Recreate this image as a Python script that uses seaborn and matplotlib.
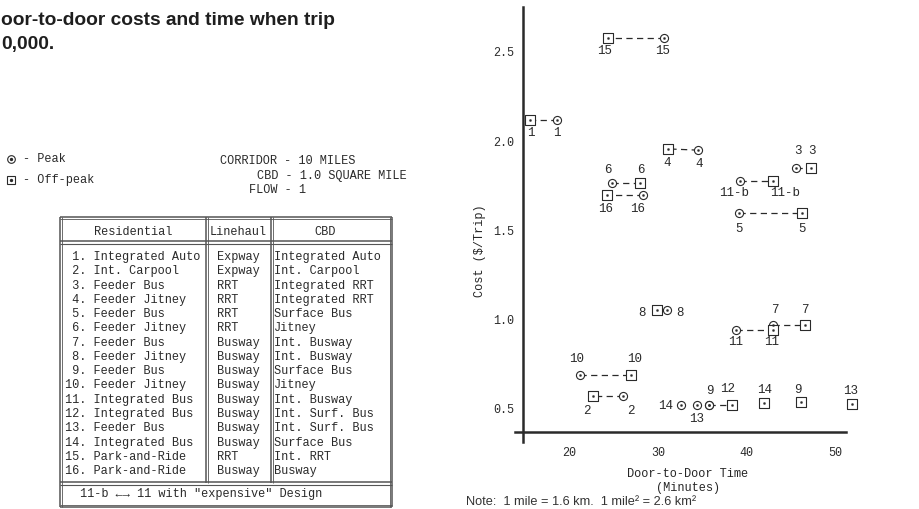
import numpy as np
import pandas as pd
import matplotlib
matplotlib.use("Agg")
import matplotlib.pyplot as plt
import seaborn as sns

# ---------------- data ----------------
pair_labels = ['1', '2', '3', '4', '5', '6', '7', '8', '9', '10', '11', '11-b',
               '12', '13', '14', '15', '16']
peak_time = [18.7, 26.1, 45.5, 34.5, 39.1, 24.8, 42.9, 31.0, 35.8, 21.3, 38.8, 39.2,
             35.8, 34.4, 32.6, 30.7, 28.3]
peak_cost = [2.12, 0.573, 1.85, 1.95, 1.598, 1.766, 0.97, 1.055, 0.52, 0.69, 0.943, 1.777,
             0.52, 0.52, 0.52, 2.58, 1.70]
off_time = [15.6, 22.7, 47.2, 31.1, 46.2, 28.0, 46.6, 29.9, 46.1, 27.0, 42.9, 43.0,
            38.3, 51.8, 41.9, 24.4, 24.3]
off_cost = [2.12, 0.573, 1.85, 1.957, 1.598, 1.766, 0.97, 1.055, 0.54, 0.69, 0.943, 1.777,
            0.52, 0.53, 0.535, 2.58, 1.70]
connected = [True] * 8 + [False] + [True] * 4 + [False, False] + [True, True]
peak_text = pair_labels[:12] + [''] + pair_labels[13:]
off_text = pair_labels[:]

x_ticks = [20, 30, 40, 50]
y_ticks = [0.5, 1.0, 1.5, 2.0, 2.5]

residential = ['Integrated Auto', 'Int. Carpool', 'Feeder Bus', 'Feeder Jitney',
               'Feeder Bus', 'Feeder Jitney', 'Feeder Bus', 'Feeder Jitney',
               'Feeder Bus', 'Feeder Jitney', 'Integrated Bus', 'Integrated Bus',
               'Feeder Bus', 'Integrated Bus', 'Park-and-Ride', 'Park-and-Ride']
linehaul = ['Expway', 'Expway', 'RRT', 'RRT', 'RRT', 'RRT', 'Busway', 'Busway',
            'Busway', 'Busway', 'Busway', 'Busway', 'Busway', 'Busway', 'RRT', 'Busway']
cbd = ['Integrated Auto', 'Int. Carpool', 'Integrated RRT', 'Integrated RRT',
       'Surface Bus', 'Jitney', 'Int. Busway', 'Int. Busway', 'Surface Bus', 'Jitney',
       'Int. Busway', 'Int. Surf. Bus', 'Int. Surf. Bus', 'Surface Bus', 'Int. RRT', 'Busway']

# ---------------- style (label offsets in pixels: dx right, dy down) ----------------
peak_off = [(0, 13), (8, 15), (2, -17), (1, 14), (0, 16), (-4, -13), (2, -15), (13, 3),
            (0, -14), (-4, -16), (0, 12), (-6, 12), (0, 0), (0, 14), (-15, 1), (-1, 13), (-5, 14)]
off_off = [(1, 13), (-6, 15), (1, -17), (0, 14), (0, 16), (1, -13), (-1, -15), (-15, 3),
           (-3, -12), (3, -16), (-1, 12), (12, 12), (-4, -16), (-1, -13), (1, -13), (-3, 13), (-2, 14)]

INK = '#2a2a2a'
MONO = ['Liberation Mono', 'DejaVu Sans Mono']
SANS = ['Liberation Sans', 'DejaVu Sans']

sns.set_theme(style='white')
plt.rcParams['font.family'] = MONO
plt.rcParams['text.color'] = INK
plt.rcParams['axes.edgecolor'] = INK
plt.rcParams['xtick.color'] = INK
plt.rcParams['ytick.color'] = INK

W, H = 919, 509
fig = plt.figure(figsize=(W / 100, H / 100), dpi=100)
fig.patch.set_facecolor('white')

# --------- overlay (pixel coordinates) for the left-hand text panel ---------
ov = fig.add_axes([0, 0, 1, 1], zorder=0)
ov.set_xlim(0, W)
ov.set_ylim(H, 0)
ov.axis('off')

ov.text(1, 25, 'oor-to-door costs and time when trip', fontsize=13.8, fontweight='bold',
        family=SANS, color='#1e1e1e', va='baseline', ha='left')
ov.text(1, 49, '0,000.', fontsize=13.8, fontweight='bold',
        family=SANS, color='#1e1e1e', va='baseline', ha='left')

FS = 8.6
# legend symbols
ov.plot([11], [159], marker='o', ms=5.5, mfc='white', mec=INK, mew=0.8)
ov.plot([11], [159], marker='o', ms=1.4, color=INK)
ov.plot([11], [180], marker='s', ms=6, mfc='white', mec=INK, mew=0.8)
ov.plot([11], [180], marker='o', ms=1.4, color=INK)
ov.text(23, 159, '- Peak', fontsize=FS, va='center', ha='left')
ov.text(23, 180, '- Off-peak', fontsize=FS, va='center', ha='left')

ov.text(220, 161, 'CORRIDOR - 10 MILES', fontsize=FS, va='center', ha='left')
ov.text(257, 176, 'CBD - 1.0 SQUARE MILE', fontsize=FS, va='center', ha='left')
ov.text(249, 190, 'FLOW - 1', fontsize=FS, va='center', ha='left')

# table frame
LC = '#555555'
def hline(y, x0, x1, lw=1.1):
    ov.plot([x0, x1], [y, y], color=LC, lw=lw, solid_capstyle='butt')
def vline(x, y0, y1, lw=1.1):
    ov.plot([x, x], [y0, y1], color=LC, lw=lw, solid_capstyle='butt')

x0t, x1t, y0t, y1t = 60, 392, 217, 507
hline(y0t, x0t, x1t); hline(y0t + 2, x0t, x1t, 0.6)
hline(y1t, x0t, x1t); hline(y1t - 2, x0t, x1t, 0.6)
vline(x0t, y0t, y1t); vline(x0t + 2, y0t, y1t, 0.6)
vline(x1t, y0t, y1t); vline(x1t - 2, y0t, y1t, 0.6)
hline(241, x0t, x1t); hline(244, x0t, x1t, 0.8)
hline(482, x0t, x1t); hline(485, x0t, x1t, 0.8)
vline(206, y0t, 483); vline(208, y0t, 483, 0.6)
vline(271, y0t, 483); vline(273, y0t, 483, 0.6)

ov.text(133, 232, 'Residential', fontsize=FS, va='center', ha='center')
ov.text(238, 232, 'Linehaul', fontsize=FS, va='center', ha='center')
ov.text(325, 232, 'CBD', fontsize=FS, va='center', ha='center')
for i in range(len(residential)):
    y = 257 + i * 14.27
    ov.text(65, y, f'{i + 1:>2}. {residential[i]}', fontsize=FS, va='center', ha='left')
    ov.text(217, y, linehaul[i], fontsize=FS, va='center', ha='left')
    ov.text(274, y, cbd[i], fontsize=FS, va='center', ha='left')
ov.text(80, 494, '11-b \u2190\u2192 11 with "expensive" Design', fontsize=FS,
        va='center', ha='left', family=MONO)

ov.text(466, 502, 'Note:  1 mile = 1.6 km.  1 mile\u00b2 = 2.6 km\u00b2', fontsize=9.2,
        family=SANS, va='center', ha='left', color='#333333')

# ---------------- scatter plot ----------------
ax = fig.add_axes([0.560, 0.1316, 0.361, 0.854], zorder=2)
ax.patch.set_alpha(0)

df = pd.DataFrame({
    'pair': pair_labels * 2,
    'time': peak_time + off_time,
    'cost': peak_cost + off_cost,
    'period': ['Peak'] * len(pair_labels) + ['Off-peak'] * len(pair_labels),
    'connected': connected * 2,
})

lines_df = df[df['connected']]
sns.lineplot(data=lines_df, x='time', y='cost', units='pair', estimator=None,
             sort=False, color=INK, lw=0.9, ax=ax, zorder=1,
             dashes=False, linestyle=(0, (5, 3.5)))

peak_df = df[df['period'] == 'Peak']
off_df = df[df['period'] == 'Off-peak']
sns.scatterplot(data=peak_df, x='time', y='cost', marker='o', s=34,
                facecolor='white', edgecolor=INK, linewidth=0.8, ax=ax, zorder=3,
                clip_on=False)
sns.scatterplot(data=off_df, x='time', y='cost', marker='s', s=44,
                facecolor='white', edgecolor=INK, linewidth=0.8, ax=ax, zorder=3,
                clip_on=False)
sns.scatterplot(data=df, x='time', y='cost', marker='o', s=2.5,
                color=INK, edgecolor=INK, linewidth=0.2, ax=ax, zorder=4,
                clip_on=False)

for i, lab in enumerate(pair_labels):
    if peak_text[i]:
        dx, dy = peak_off[i]
        ax.annotate(peak_text[i], (peak_time[i], peak_cost[i]), xytext=(dx, -dy),
                    textcoords='offset pixels', ha='center', va='center', fontsize=9,
                    annotation_clip=False)
    if off_text[i]:
        dx, dy = off_off[i]
        ax.annotate(off_text[i], (off_time[i], off_cost[i]), xytext=(dx, -dy),
                    textcoords='offset pixels', ha='center', va='center', fontsize=9,
                    annotation_clip=False)

ax.set_xlim(13.9, 51.2)
ax.set_ylim(0.315, 2.75)
ax.spines['top'].set_visible(False)
ax.spines['right'].set_visible(False)
ax.spines['left'].set_position(('data', 14.8))
ax.spines['bottom'].set_position(('data', 0.371))
ax.spines['left'].set_linewidth(1.8)
ax.spines['bottom'].set_linewidth(1.8)
ax.set_xticks(x_ticks)
ax.set_yticks(y_ticks)
ax.set_yticklabels([f'{v:.1f}' for v in y_ticks])
ax.tick_params(axis='x', direction='inout', length=8, width=1.2, labelsize=8.5, pad=7)
ax.tick_params(axis='y', direction='out', length=4, width=1.0, labelsize=8.5, pad=2)
ax.set_xlabel('Door-to-Door Time\n(Minutes)', fontsize=8.6, linespacing=1.25)
ax.set_ylabel('Cost ($/Trip)', fontsize=8.6)
ax.xaxis.set_label_coords(0.522, -0.06)
ax.xaxis.label.set_va('top')
ax.yaxis.set_label_coords(-0.085, 0.44)
ax.grid(False)

fig.savefig('out.png', dpi=100, facecolor='white')
